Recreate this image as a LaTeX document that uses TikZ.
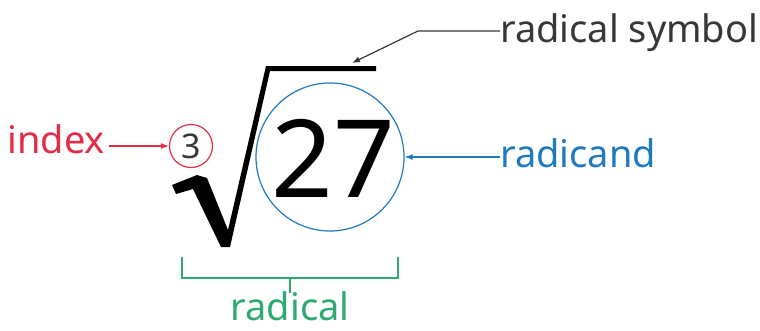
\documentclass[tikz,border=0pt]{standalone}
\usepackage{fontspec}
\setmainfont{Noto Sans}
\usetikzlibrary{arrows.meta,positioning}

\definecolor{idxred}{RGB}{226,44,72}
\definecolor{radblue}{RGB}{32,122,192}
\definecolor{radgreen}{RGB}{46,170,112}
\definecolor{symgray}{RGB}{55,55,55}

\begin{document}
\begin{tikzpicture}[x=1pt,y=-1pt,
  lbl/.style={font=\fontsize{38}{44}\selectfont, inner sep=0pt},
  pointer/.style={line width=1.2pt, -{Latex[length=8pt,width=6pt]}}]

  \useasboundingbox (0,0) rectangle (760,330);

  % Radical sign
  \fill[black] (172,185) -- (197,175) -- (207,178) -- (228,230) -- (266,66)
    -- (376,66) -- (376,71) -- (270,71) -- (230,247) -- (221,247)
    -- (193,189) -- (176,194) -- cycle;
  \coordinate (bartip) at (352,63);

  % Index and radicand
  \node[circle, draw=idxred, line width=1.2pt, minimum size=43pt, inner sep=0pt,
        text=symgray, font=\fontsize{34}{38}\selectfont] (three) at (191,146) {3};
  \node[circle, draw=radblue, line width=1.2pt, minimum size=148pt, inner sep=0pt]
        (radicand) at (330,157) {};
  \node[font=\fontsize{108}{120}\selectfont, anchor=base] (num) at (333,197) {27};

  % Labels
  \node[lbl, text=idxred, anchor=base east] (index) at (105,153) {index};
  \node[lbl, text=symgray, anchor=base west] (symbol) at (500,42) {radical symbol};
  \node[lbl, text=radblue, anchor=base west] (radlbl) at (500,167) {radicand};
  \node[lbl, text=radgreen, anchor=base] (radical) at (290,320) {radical};

  % Pointers
  \draw[pointer, idxred] (index.east |- three) ++(4,0) -- (three.west);
  \draw[pointer, radblue] (radlbl.west |- radicand) -- (radicand.east);
  \draw[pointer, symgray] (symbol.west |- 0,31) -- (418,31) -- (bartip);

  % Bracket under the radical
  \draw[radgreen, line width=1.3pt] (182,257) -- (182,278) -- (398,278) -- (398,257);
  \draw[radgreen, line width=1.3pt] (290,278) -- (290,293);

\end{tikzpicture}
\end{document}
